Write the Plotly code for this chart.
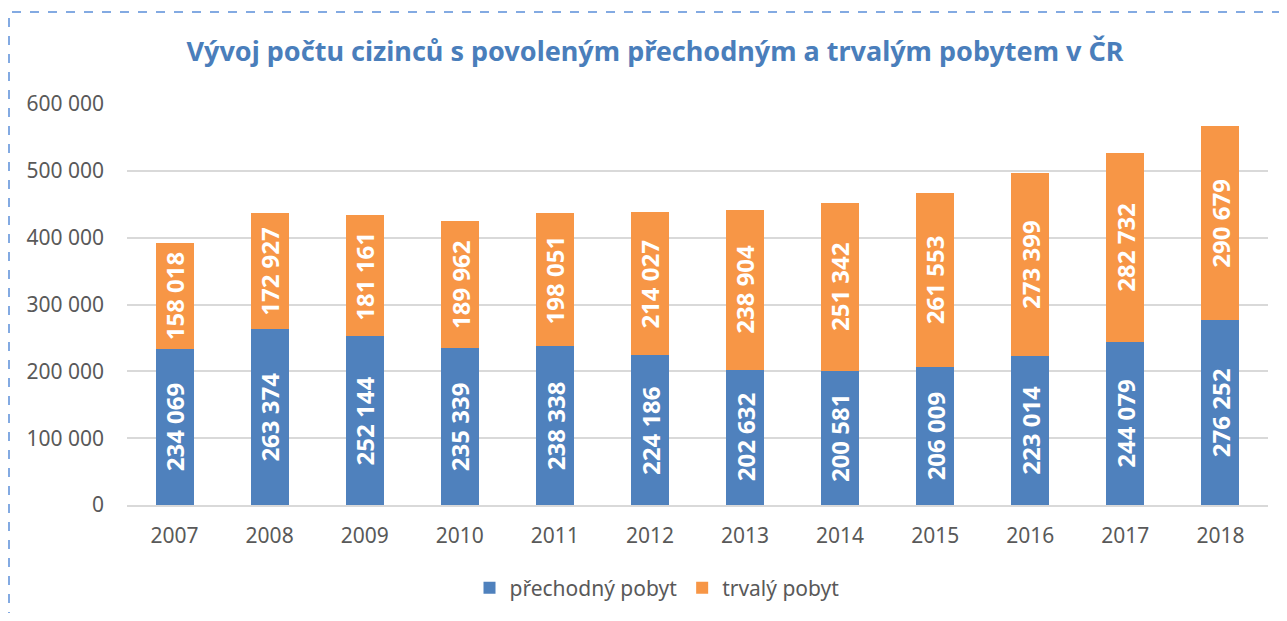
import plotly.graph_objects as go

years = ["2007", "2008", "2009", "2010", "2011", "2012", "2013", "2014", "2015", "2016", "2017", "2018"]
prechodny = [234069, 263374, 252144, 235339, 238338, 224186, 202632, 200581, 206009, 223014, 244079, 276252]
trvaly = [158018, 172927, 181161, 189962, 198051, 214027, 238904, 251342, 261553, 273399, 282732, 290679]
title_text = "Vývoj počtu cizinců s povoleným přechodným a trvalým pobytem v ČR"
series_names = ["přechodný pobyt", "trvalý pobyt"]

BLUE = "#4F81BD"
ORANGE = "#F79646"
GREY = "#595959"
FONT = "Noto Sans"

OFF = 8  # page body margin
W, H = 1287 - 2 * OFF, 621 - 2 * OFF
L = 127 - OFF
R = W - (1268 - OFF)
T = 104 - OFF
B = H - (505 - OFF)
pw, ph = W - L - R, H - T - B


def px(xref_px):
    return (xref_px - OFF - L) / pw


def py(yref_px):
    return (H - B - (yref_px - OFF)) / ph


def fmt(v):
    return f"{v:,}".replace(",", " ")


fig = go.Figure()
fig.add_trace(go.Bar(x=years, y=prechodny, name=series_names[0], marker=dict(color=BLUE, line=dict(width=0))))
fig.add_trace(go.Bar(x=years, y=trvaly, name=series_names[1], marker=dict(color=ORANGE, line=dict(width=0))))

annotations = []
lab_font = dict(family=FONT, size=24, color="white", weight="bold")
for i, (p, t) in enumerate(zip(prechodny, trvaly)):
    annotations.append(dict(x=i, y=p / 2, text=fmt(p), textangle=-90, showarrow=False,
                            font=lab_font, xref="x", yref="y"))
    annotations.append(dict(x=i, y=p + t / 2, text=fmt(t), textangle=-90, showarrow=False,
                            font=lab_font, xref="x", yref="y"))

fig.update_layout(
    width=W, height=H,
    margin=dict(l=L, r=R, t=T, b=B, autoexpand=False),
    barmode="stack",
    bargap=0.6,
    paper_bgcolor="white",
    plot_bgcolor="white",
    separators=", ",
    font=dict(family=FONT, color=GREY, size=21),
    title=dict(text=title_text, x=px(655), xref="paper", xanchor="center",
               y=1 - (52 - OFF) / H, yref="container", yanchor="middle",
               font=dict(family=FONT, size=27, color="#4A7EBB", weight="bold")),
    xaxis=dict(type="category", range=[-0.5, len(years) - 0.5], showgrid=False, showline=True,
               linecolor="#D9D9D9", linewidth=1.5,
               ticks="", tickfont=dict(size=21, color=GREY), ticklabelstandoff=11),
    yaxis=dict(range=[0, 600000], dtick=100000, tickformat=",d", showgrid=True,
               gridcolor="#D9D9D9", gridwidth=1.5, zeroline=False, showline=False, ticks="",
               tickfont=dict(size=21, color=GREY), ticklabelstandoff=22),
    legend=dict(orientation="h", x=px(657), xanchor="center", y=py(588), yanchor="middle",
                font=dict(size=21, color=GREY), traceorder="normal"),
    annotations=annotations,
    shapes=[dict(type="rect", xref="paper", yref="paper", x0=px(9), x1=px(1320), y0=py(660), y1=py(12),
                 line=dict(color="#5B8FD9", width=1.5, dash="dash"), fillcolor="rgba(0,0,0,0)", layer="below")],
)

fig.write_html("out.html")
